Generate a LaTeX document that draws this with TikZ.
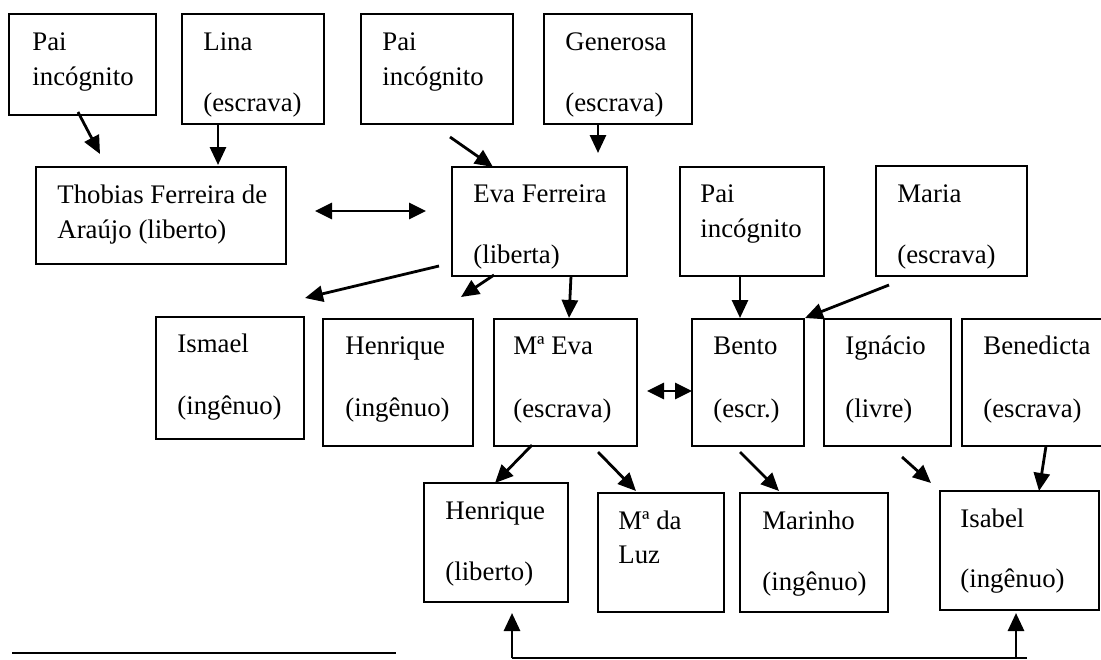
\documentclass[tikz,border=0pt]{standalone}
\usepackage{fontspec}
\setmainfont{Liberation Serif}
\usetikzlibrary{arrows.meta,fit}
\begin{document}
\begin{tikzpicture}[x=0.5pt,y=-0.5pt,
  box/.style={draw,line width=1.1pt,inner sep=0pt,rectangle},
  txt/.style={inner sep=0pt,anchor=base west,font=\fontsize{13.4}{16}\selectfont},
  arr/.style={line width=1.4pt,-{Triangle[length=9pt,width=8pt]}},
  darr/.style={line width=1.4pt,{Triangle[length=8.5pt,width=8pt]}-{Triangle[length=8.5pt,width=8pt]}},
  plain/.style={line width=1.4pt}]
\useasboundingbox (0,0) rectangle (1101,659);
\fill[white] (0,0) rectangle (1101,659);
\clip (0,0) rectangle (1101,659);
% boxes
\node[box,fit={(9,14) (156,115)}] (pai1) {};
\node[box,fit={(182,14) (324,124)}] (lina) {};
\node[box,fit={(361,14) (513,124)}] (pai2) {};
\node[box,fit={(544,14) (692,124)}] (gen) {};
\node[box,fit={(36,167) (286,264)}] (thob) {};
\node[box,fit={(452,167) (627,276)}] (eva) {};
\node[box,fit={(680,167) (824,276)}] (pai3) {};
\node[box,fit={(876,166) (1027,276)}] (maria) {};
\node[box,fit={(156,317) (304,439)}] (ismael) {};
\node[box,fit={(323,319) (473,446)}] (hen1) {};
\node[box,fit={(494,319) (637,446)}] (meva) {};
\node[box,fit={(692,319) (804,446)}] (bento) {};
\node[box,fit={(824,319) (951,446)}] (ign) {};
\node[box,fit={(962,319) (1120,446)}] (bened) {};
\node[box,fit={(424,483) (568,602)}] (hen2) {};
\node[box,fit={(598,493) (724,612)}] (luz) {};
\node[box,fit={(740,493) (888,612)}] (marinho) {};
\node[box,fit={(940,491) (1099,610)}] (isabel) {};
% texts
\node[txt] (pai1a) at (32,50) {Pai};
\node[txt] (pai1b) at (32,85) {incógnito};
\node[txt] (linaa) at (203,50) {Lina};
\node[txt] (linab) at (203,111) {(escrava)};
\node[txt] (pai2a) at (382,50) {Pai};
\node[txt] (pai2b) at (382,85) {incógnito};
\node[txt] (gena) at (565,50) {Generosa};
\node[txt] (genb) at (565,111) {(escrava)};
\node[txt] (thoba) at (57,203) {Thobias Ferreira de};
\node[txt] (thobb) at (57,238) {Araújo (liberto)};
\node[txt] (evaa) at (473,202) {Eva Ferreira};
\node[txt] (evab) at (473,263) {(liberta)};
\node[txt] (pai3a) at (700,202) {Pai};
\node[txt] (pai3b) at (700,237) {incógnito};
\node[txt] (mariaa) at (897,202) {Maria};
\node[txt] (mariab) at (897,263) {(escrava)};
\node[txt] (ismaela) at (177,352) {Ismael};
\node[txt] (ismaelb) at (177,414) {(ingênuo)};
\node[txt] (hen1a) at (345,354) {Henrique};
\node[txt] (hen1b) at (345,416) {(ingênuo)};
\node[txt] (mevaa) at (513,354) {Mª Eva};
\node[txt] (mevab) at (513,417) {(escrava)};
\node[txt] (bentoa) at (713,354) {Bento};
\node[txt] (bentob) at (713,417) {(escr.)};
\node[txt] (igna) at (845,354) {Ignácio};
\node[txt] (ignb) at (845,417) {(livre)};
\node[txt] (beneda) at (983,354) {Benedicta};
\node[txt] (benedb) at (983,417) {(escrava)};
\node[txt] (hen2a) at (445,519) {Henrique};
\node[txt] (hen2b) at (445,580) {(liberto)};
\node[txt] (luza) at (618,529) {Mª da};
\node[txt] (luzb) at (618,563) {Luz};
\node[txt] (marinhoa) at (762,529) {Marinho};
\node[txt] (marinhob) at (762,590) {(ingênuo)};
\node[txt] (isabela) at (960,527) {Isabel};
\node[txt] (isabelb) at (960,587) {(ingênuo)};
% connector end points
\coordinate (s1) at (78,112);   \coordinate (e1) at (100,154);
\coordinate (s2) at (218,124);  \coordinate (e2) at (218,165);
\coordinate (s3) at (315,211);  \coordinate (e3) at (426,211);
\coordinate (s4) at (450,137);  \coordinate (e4) at (493,167);
\coordinate (s5) at (598,124);  \coordinate (e5) at (598,153);
\coordinate (s6) at (439,266);  \coordinate (e6) at (305,298);
\coordinate (s7) at (494,275);  \coordinate (e7) at (461,297);
\coordinate (s8) at (571,276);  \coordinate (e8) at (569,318);
\coordinate (s9) at (740,276);  \coordinate (e9) at (740,318);
\coordinate (s10) at (889,285); \coordinate (e10) at (805,318);
\coordinate (s11) at (647,391); \coordinate (e11) at (692,391);
\coordinate (s12) at (532,445); \coordinate (e12) at (495,483);
\coordinate (s13) at (598,452); \coordinate (e13) at (636,491);
\coordinate (s14) at (740,452); \coordinate (e14) at (779,491);
\coordinate (s15) at (902,457); \coordinate (e15) at (931,483);
\coordinate (s16) at (1046,446); \coordinate (e16) at (1039,491);
\coordinate (bl) at (512,658); \coordinate (br) at (1027,658);
\coordinate (bi) at (1016,658);
\coordinate (th) at (512,613); \coordinate (ti) at (1016,613);
% connectors
\draw[arr] (s1) -- (e1);
\draw[arr] (s2) -- (e2);
\draw[darr] (s3) -- (e3);
\draw[arr] (s4) -- (e4);
\draw[arr] (s5) -- (e5);
\draw[arr] (s6) -- (e6);
\draw[arr] (s7) -- (e7);
\draw[arr] (s8) -- (e8);
\draw[arr] (s9) -- (e9);
\draw[arr] (s10) -- (e10);
\draw[darr] (s11) -- (e11);
\draw[arr] (s12) -- (e12);
\draw[arr] (s13) -- (e13);
\draw[arr] (s14) -- (e14);
\draw[arr] (s15) -- (e15);
\draw[arr] (s16) -- (e16);
\draw[plain] (br) -- (bl);
\draw[arr] (bl) -- (th);
\draw[arr] (bi) -- (ti);
% footnote rule
\coordinate (fl) at (12,653); \coordinate (fr) at (396,653);
\draw[line width=1.1pt] (fl) -- (fr);
\end{tikzpicture}
\end{document}
